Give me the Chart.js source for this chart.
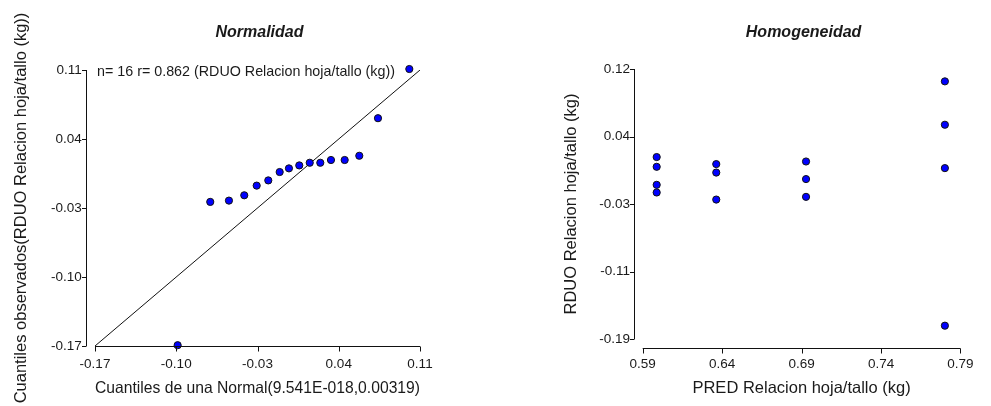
<!DOCTYPE html>
<html lang="es">
<head>
  <meta charset="UTF-8" />
  <title>Supuestos del modelo - RDUO Relacion hoja/tallo</title>
  <script src="https://cdn.jsdelivr.net/npm/chart.js"></script>
  <style>
    body { margin: 0; background: #fff; }
    .panel { position: absolute; top: 0; }
  </style>
</head>
<body>
  <div class="panel" style="left:0"><canvas id="graficoNormal" width="495" height="406"></canvas></div>
  <div class="panel" style="left:495px"><canvas id="graficoHomog" width="496" height="406"></canvas></div>

  <script>
    // Q-Q plot: cuantiles teoricos vs observados (residuos)
    const cuantilesNormal = [-0.0988, -0.0707, -0.0546, -0.0414, -0.0307, -0.0207, -0.0109, -0.0029,
                              0.0060, 0.0150, 0.0241, 0.0333, 0.0451, 0.0577, 0.0738, 0.1008];
    const cuantilesObs = [-0.1692, -0.0238, -0.0225, -0.0171, -0.0073, -0.0020, 0.0065, 0.0102,
                           0.0132, 0.0159, 0.0159, 0.0187, 0.0187, 0.0230, 0.0611, 0.1110];
    const rectaNormal = [-0.17, 0.11];
    const ticksNormal = [-0.17, -0.10, -0.03, 0.04, 0.11];

    // Residuos vs predichos
    const predichos = [0.5988, 0.5988, 0.5988, 0.5988, 0.6363, 0.6363, 0.6363,
                       0.6928, 0.6928, 0.6928, 0.7802, 0.7802, 0.7802, 0.7802];
    const residuos = [0.0189, 0.0077, -0.0130, -0.0218, 0.0108, 0.0011, -0.0299,
                      0.0138, -0.0064, -0.0268, 0.1058, 0.0560, 0.0062, -0.1747];
    const ticksPred = [0.59, 0.64, 0.69, 0.74, 0.79];
    const ticksResid = [-0.19, -0.1125, -0.035, 0.0425, 0.12];
    const etiquetasResid = ['-0.19', '-0.11', '-0.03', '0.04', '0.12'];

    Chart.defaults.font.family = '"Liberation Sans", Arial, sans-serif';
    Chart.defaults.color = '#1a1a1a';

    // ejes separados al estilo InfoStat, titulo y nota
    const ejesPlugin = {
      id: 'ejes',
      afterDraw(chart, args, opts) {
        const { ctx, chartArea, scales } = chart;
        const xs = scales.x, ys = scales.y;
        const ejeX = Math.round(chartArea.left - opts.gapX) + 0.5;
        const ejeY = Math.round(chartArea.bottom + opts.gapY) + 0.5;
        ctx.save();
        ctx.strokeStyle = '#111';
        ctx.lineWidth = 1;
        ctx.beginPath();
        ctx.moveTo(ejeX, ys.getPixelForValue(ys.max));
        ctx.lineTo(ejeX, ys.getPixelForValue(ys.min));
        ys.ticks.forEach(t => {
          const p = Math.round(ys.getPixelForValue(t.value)) + 0.5;
          ctx.moveTo(ejeX - 4.5, p);
          ctx.lineTo(ejeX, p);
        });
        ctx.moveTo(xs.getPixelForValue(xs.min), ejeY);
        ctx.lineTo(xs.getPixelForValue(xs.max), ejeY);
        xs.ticks.forEach(t => {
          const p = Math.round(xs.getPixelForValue(t.value)) + 0.5;
          ctx.moveTo(p, ejeY);
          ctx.lineTo(p, ejeY + 5);
        });
        ctx.stroke();

        ctx.fillStyle = '#1a1a1a';
        ctx.textBaseline = 'middle';
        ctx.textAlign = 'center';
        ctx.font = 'bold italic 16px "Liberation Sans", Arial, sans-serif';
        ctx.fillText(opts.titulo, (chartArea.left + chartArea.right) / 2 + 2, 33);
        if (opts.nota) {
          ctx.textAlign = 'left';
          ctx.font = '14.3px "Liberation Sans", Arial, sans-serif';
          ctx.fillText(opts.nota, chartArea.left + 2, 72);
        }
        ctx.restore();
      }
    };

    function ejeLineal(cfg) {
      return {
        type: 'linear',
        position: cfg.position,
        min: cfg.min,
        max: cfg.max,
        grid: { display: false, drawTicks: false },
        border: { display: false },
        afterBuildTicks: scale => { scale.ticks = cfg.ticks.map(v => ({ value: v })); },
        afterFit: cfg.fit,
        ticks: {
          padding: cfg.padding,
          font: { size: 13.5 },
          color: '#1a1a1a',
          callback: (v, i) => cfg.labels ? cfg.labels[i] : Number(v).toFixed(2)
        },
        title: {
          display: true,
          text: cfg.titulo,
          font: { size: 16.5 },
          color: '#1a1a1a',
          padding: cfg.tituloPad
        }
      };
    }

    const puntos = {
      pointRadius: 3.6,
      pointBackgroundColor: '#0000ff',
      pointBorderColor: '#111',
      pointBorderWidth: 1,
      clip: false
    };

    new Chart(document.getElementById('graficoNormal'), {
      type: 'scatter',
      data: {
        datasets: [
          Object.assign({
            label: 'RDUO',
            data: cuantilesNormal.map((x, i) => ({ x: x, y: cuantilesObs[i] })),
            order: 0
          }, puntos),
          {
            label: 'recta',
            data: rectaNormal.map(v => ({ x: v, y: v })),
            showLine: true,
            borderColor: '#111',
            borderWidth: 1,
            pointRadius: 0,
            order: 1
          }
        ]
      },
      options: {
        responsive: false,
        animation: false,
        layout: { padding: { top: 70, right: 75, bottom: 0, left: 0 } },
        plugins: {
          legend: { display: false },
          tooltip: { enabled: false },
          ejes: { gapX: 9, gapY: 0, titulo: 'Normalidad', nota: 'n= 16 r= 0.862 (RDUO Relacion hoja/tallo (kg))' }
        },
        scales: {
          x: ejeLineal({
            position: 'bottom', min: -0.17, max: 0.11, ticks: ticksNormal, padding: 10,
            titulo: 'Cuantiles de una Normal(9.541E-018,0.00319)', tituloPad: { top: 0, bottom: 8 },
            fit: s => { s.height = 60; }
          }),
          y: ejeLineal({
            position: 'left', min: -0.17, max: 0.11, ticks: ticksNormal, padding: 13.3,
            titulo: 'Cuantiles observados(RDUO Relacion hoja/tallo (kg))', tituloPad: { top: 12, bottom: 0 },
            fit: s => { s.width = 95; }
          })
        }
      },
      plugins: [ejesPlugin]
    });

    new Chart(document.getElementById('graficoHomog'), {
      type: 'scatter',
      data: {
        datasets: [
          Object.assign({
            label: 'RDUO',
            data: predichos.map((x, i) => ({ x: x, y: residuos[i] }))
          }, puntos)
        ]
      },
      options: {
        responsive: false,
        animation: false,
        layout: { padding: { top: 69, right: 22.7, bottom: 0, left: 0 } },
        plugins: {
          legend: { display: false },
          tooltip: { enabled: false },
          ejes: { gapX: 8.5, gapY: 9, titulo: 'Homogeneidad' }
        },
        scales: {
          x: ejeLineal({
            position: 'bottom', min: 0.59, max: 0.79, ticks: ticksPred, padding: 17.4,
            titulo: 'PRED Relacion hoja/tallo (kg)', tituloPad: { top: 0, bottom: 8 },
            fit: s => { s.height = 67; }
          }),
          y: ejeLineal({
            position: 'left', min: -0.19, max: 0.12, ticks: ticksResid, labels: etiquetasResid, padding: 12.7,
            titulo: 'RDUO Relacion hoja/tallo (kg)', tituloPad: { top: 66.8, bottom: 0 },
            fit: s => { s.width = 147.7; }
          })
        }
      },
      plugins: [ejesPlugin]
    });
  </script>
</body>
</html>
